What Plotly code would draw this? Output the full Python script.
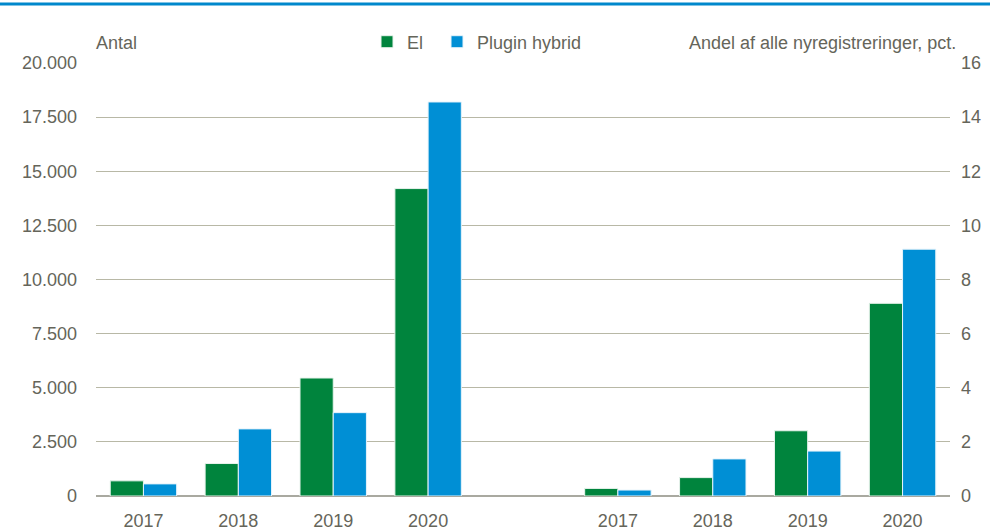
import plotly.graph_objects as go

years = ["2017", "2018", "2019", "2020"]
el_antal = [700, 1500, 5450, 14200]
ph_antal = [560, 3100, 3850, 18200]
el_andel = [0.28, 0.68, 2.41, 7.12]
ph_andel = [0.22, 1.37, 1.66, 9.12]

pos_left = [0, 1, 2, 3]
pos_right = [5, 6, 7, 8]

GREEN = "#00843d"
BLUE = "#008fd5"
TXT = "#65655a"
GRID = "#b8b8a6"
FONT = "Liberation Sans Narrow, Arial Narrow, Liberation Sans, Arial, sans-serif"
FS = 18

L, R, T, B = 96, 40, 63, 35
PW, PH = 990 - L - R, 531 - T - B

fig = go.Figure()
fig.add_trace(go.Bar(x=pos_left, y=el_antal, name="El", marker=dict(color=GREEN, line=dict(color="#e8f3ec", width=1)),
                     width=0.35, offset=-0.35, legendgroup="el", legend="legend"))
fig.add_trace(go.Bar(x=pos_left, y=ph_antal, name="Plugin hybrid", marker=dict(color=BLUE, line=dict(color="#e6f3fb", width=1)),
                     width=0.35, offset=0.0, legendgroup="ph", legend="legend2"))
fig.add_trace(go.Bar(x=pos_right, y=el_andel, name="El", marker=dict(color=GREEN, line=dict(color="#e8f3ec", width=1)),
                     width=0.35, offset=-0.35, legendgroup="el", showlegend=False, yaxis="y2"))
fig.add_trace(go.Bar(x=pos_right, y=ph_andel, name="Plugin hybrid", marker=dict(color=BLUE, line=dict(color="#e6f3fb", width=1)),
                     width=0.35, offset=0.0, legendgroup="ph", showlegend=False, yaxis="y2"))

leg_common = dict(orientation="h", xanchor="left", y=1 + 21 / PH, yanchor="middle",
                  font=dict(size=FS, color=TXT), itemwidth=30, bgcolor="rgba(0,0,0,0)")

fig.update_layout(
    width=990, height=531,
    margin=dict(l=L, r=R, t=T, b=B, autoexpand=False),
    paper_bgcolor="white", plot_bgcolor="white",
    separators=",.",
    font=dict(family=FONT, size=FS, color=TXT),
    showlegend=True,
    legend=dict(x=(367 - L) / PW, **leg_common),
    legend2=dict(x=(437 - L) / PW, **leg_common),
    xaxis=dict(range=[-0.5, 8.5], tickvals=pos_left + pos_right, ticktext=years + years,
               showgrid=False, zeroline=False, showline=False, ticks="", ticklabelstandoff=12,
               tickfont=dict(size=FS, color=TXT)),
    yaxis=dict(range=[0, 20000], dtick=2500, tickformat=",.0f", showgrid=True, gridcolor=GRID,
               gridwidth=1, zeroline=True, zerolinecolor="#a9a9a0", zerolinewidth=2,
               showline=False, ticks="", ticklabelstandoff=18, tickfont=dict(size=FS, color=TXT)),
    yaxis2=dict(range=[0, 16], dtick=2, overlaying="y", side="right", showgrid=False,
                zeroline=False, showline=False, ticks="", ticklabelstandoff=10,
                tickfont=dict(size=FS, color=TXT)),
    shapes=[dict(type="line", xref="paper", yref="paper", x0=-L / PW, x1=(PW + R) / PW,
                 y0=1 + 59 / PH, y1=1 + 59 / PH, line=dict(color="#0088cc", width=3))],
    annotations=[
        dict(text="Antal", xref="paper", yref="paper", x=-2 / PW, y=1 + 8 / PH, xanchor="left", yanchor="bottom",
             showarrow=False, font=dict(size=FS, color=TXT)),
        dict(text="Andel af alle nyregistreringer, pct.", xref="paper", yref="paper", x=1 + 8 / PW, y=1 + 8 / PH,
             xanchor="right", yanchor="bottom", showarrow=False, font=dict(size=FS, color=TXT)),
    ],
)

fig.write_html("out.html", config={"displayModeBar": False},
               post_script="document.body.style.margin='0px';document.body.style.overflow='hidden';")
